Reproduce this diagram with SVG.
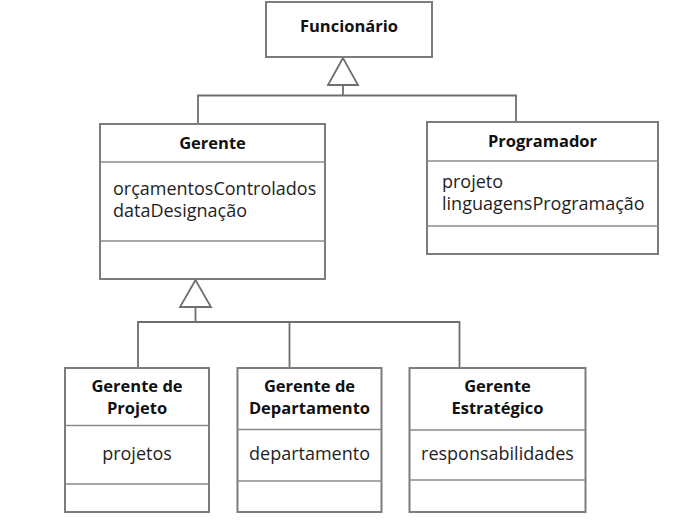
<svg xmlns="http://www.w3.org/2000/svg" width="695" height="526" viewBox="0 0 695 526">
<style>
.box{fill:#fff;stroke:#7c7c7c;stroke-width:2}
.div{stroke:#8a8a8a;stroke-width:1.5;fill:none}
.t{font-family:"Open Sans","DejaVu Sans",sans-serif;font-size:18px;fill:#1e1e1e}
.b{font-weight:bold;font-size:16.5px;fill:#111}
.c{text-anchor:middle}
.con{stroke:#6e6e6e;stroke-width:1.8;fill:none}
.tri{fill:#fff;stroke:#6e6e6e;stroke-width:1.8}
</style>
<rect width="695" height="526" fill="#fff"/>
<g id="connectors">
<polyline class="con" points="198,124 198,95.5 516,95.5 516,122"/>
<line class="con" x1="343" y1="85" x2="343" y2="95.5"/>
<polygon class="tri" points="343,58 328,85 358,85"/>
<polyline class="con" points="138,368 138,322 459.5,322 459.5,368"/>
<line class="con" x1="289.5" y1="322" x2="289.5" y2="368"/>
<line class="con" x1="195.5" y1="307" x2="195.5" y2="322"/>
<polygon class="tri" points="195.5,280 180,307 211,307"/>
</g>
<g id="funcionario">
<rect class="box" x="266" y="2" width="166" height="55"/>
<text class="t b c" x="349" y="32">Funcionário</text>
</g>
<g id="gerente">
<rect class="box" x="100" y="124" width="225" height="155"/>
<line class="div" x1="100" y1="162" x2="325" y2="162"/>
<line class="div" x1="100" y1="241" x2="325" y2="241"/>
<text class="t b c" x="212.5" y="149">Gerente</text>
<text class="t" x="113" y="195">orçamentosControlados</text>
<text class="t" x="113" y="217">dataDesignação</text>
</g>
<g id="programador">
<rect class="box" x="427" y="122" width="231" height="132"/>
<line class="div" x1="427" y1="161" x2="658" y2="161"/>
<line class="div" x1="427" y1="226" x2="658" y2="226"/>
<text class="t b c" x="542.5" y="147">Programador</text>
<text class="t" x="442" y="188">projeto</text>
<text class="t" x="442" y="210">linguagensProgramação</text>
</g>
<g id="gerente-projeto">
<rect class="box" x="65" y="368" width="144" height="144"/>
<line class="div" x1="65" y1="425.5" x2="209" y2="425.5"/>
<line class="div" x1="65" y1="484" x2="209" y2="484"/>
<text class="t b c" x="137" y="392">Gerente de</text>
<text class="t b c" x="137" y="414">Projeto</text>
<text class="t c" x="137" y="460">projetos</text>
</g>
<g id="gerente-departamento">
<rect class="box" x="237.5" y="368" width="144" height="144"/>
<line class="div" x1="237.5" y1="429.5" x2="381.5" y2="429.5"/>
<line class="div" x1="237.5" y1="481" x2="381.5" y2="481"/>
<text class="t b c" x="309.5" y="392">Gerente de</text>
<text class="t b c" x="309.5" y="414">Departamento</text>
<text class="t c" x="309.5" y="460">departamento</text>
</g>
<g id="gerente-estrategico">
<rect class="box" x="409.5" y="368" width="176" height="144"/>
<line class="div" x1="409.5" y1="430" x2="585.5" y2="430"/>
<line class="div" x1="409.5" y1="480" x2="585.5" y2="480"/>
<text class="t b c" x="497.5" y="392">Gerente</text>
<text class="t b c" x="497.5" y="414">Estratégico</text>
<text class="t c" x="497.5" y="460">responsabilidades</text>
</g>
</svg>
